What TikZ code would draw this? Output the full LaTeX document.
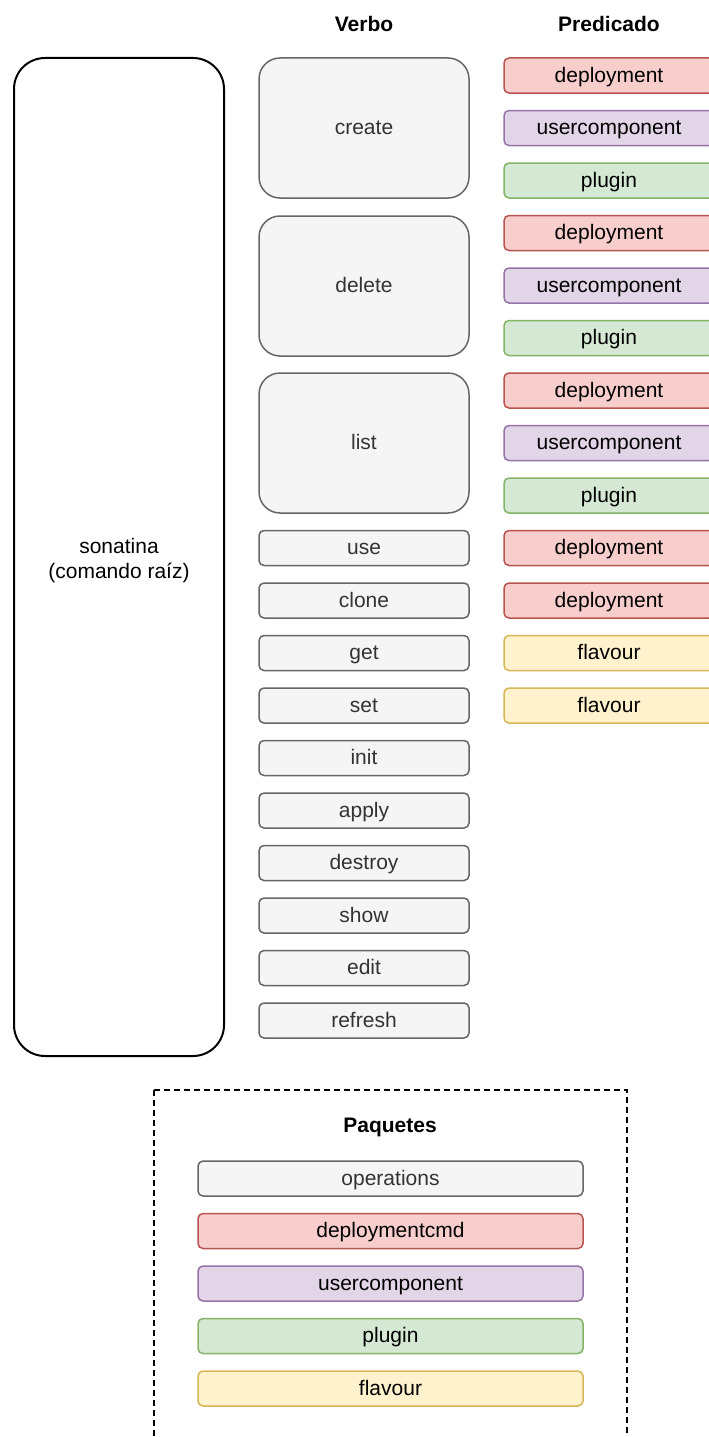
\documentclass[tikz,border=0pt]{standalone}
\usepackage{fontspec}
\setmainfont{Liberation Sans}
\usetikzlibrary{positioning}

\definecolor{grayfill}{HTML}{F5F5F5}
\definecolor{grayline}{HTML}{666666}
\definecolor{graytext}{HTML}{333333}
\definecolor{redfill}{HTML}{F8CECC}
\definecolor{redline}{HTML}{B85450}
\definecolor{purplefill}{HTML}{E1D5E7}
\definecolor{purpleline}{HTML}{9673A6}
\definecolor{greenfill}{HTML}{D5E8D4}
\definecolor{greenline}{HTML}{82B366}
\definecolor{yellowfill}{HTML}{FFF2CC}
\definecolor{yellowline}{HTML}{D6B656}

\begin{document}
\begin{tikzpicture}[
    x=1pt, y=-1pt,
    txt/.style={font=\fontsize{21}{25}\selectfont},
    head/.style={font=\fontsize{21}{25}\selectfont\bfseries},
    box/.style={draw, rectangle, rounded corners=5pt, line width=1.5pt, minimum width=210pt, minimum height=35pt, inner sep=0pt, text height=17pt, text depth=4pt, txt},
    verb/.style={box, fill=grayfill, draw=grayline, text=graytext},
    bigverb/.style={verb, minimum height=140pt, rounded corners=21pt},
    red/.style={box, fill=redfill, draw=redline},
    purple/.style={box, fill=purplefill, draw=purpleline},
    green/.style={box, fill=greenfill, draw=greenline},
    yellow/.style={box, fill=yellowfill, draw=yellowline},
    pkg/.style={minimum width=385pt},
]
    \useasboundingbox (0,0) rectangle (709,1437);

    % Root command
    \node[draw, rectangle, rounded corners=31pt, line width=2pt, minimum width=210pt, minimum height=998pt] (root) at (119,557) {};
    \node[txt, align=center] (rootname) at ([yshift=-4pt]root.center) {sonatina\\(comando raíz)};

    % Headers
    \node[head] (verbo) at (364,24) {Verbo};
    \node[head] (predicado) at (609,24) {Predicado};

    % Verbs
    \node[bigverb] (create) at (364,128) {create};
    \node[bigverb] (delete) at (364,286) {delete};
    \node[bigverb] (list) at (364,443) {list};
    \foreach \lab [count=\i from 9] in {use,clone,get,set,init,apply,destroy,show,edit,refresh} {
        \node[verb] (\lab) at (364, {75.5+52.5*\i}) {\lab};
    }

    % Predicates
    \foreach \lab/\sty [count=\i from 0] in {deployment/red, usercomponent/purple, plugin/green,
        deployment/red, usercomponent/purple, plugin/green,
        deployment/red, usercomponent/purple, plugin/green,
        deployment/red, deployment/red, flavour/yellow, flavour/yellow} {
        \node[\sty] (pred\i) at (609, {75.5+52.5*\i}) {\lab};
    }

    % Packages
    \draw[line width=1.5pt, dash pattern=on 6pt off 4pt] (154,1090) rectangle (627,1470);
    \node[head] (paquetes) at (390,1127) {Paquetes};
    \node[verb, pkg] (operations) at (390.5,1178.5) {operations};
    \node[red, pkg, below=16pt of operations] (deploymentcmd) {deploymentcmd};
    \node[purple, pkg, below=16pt of deploymentcmd] (usercomponent) {usercomponent};
    \node[green, pkg, below=16pt of usercomponent] (plugin) {plugin};
    \node[yellow, pkg, below=16pt of plugin] (flavour) {flavour};

\end{tikzpicture}
\end{document}
